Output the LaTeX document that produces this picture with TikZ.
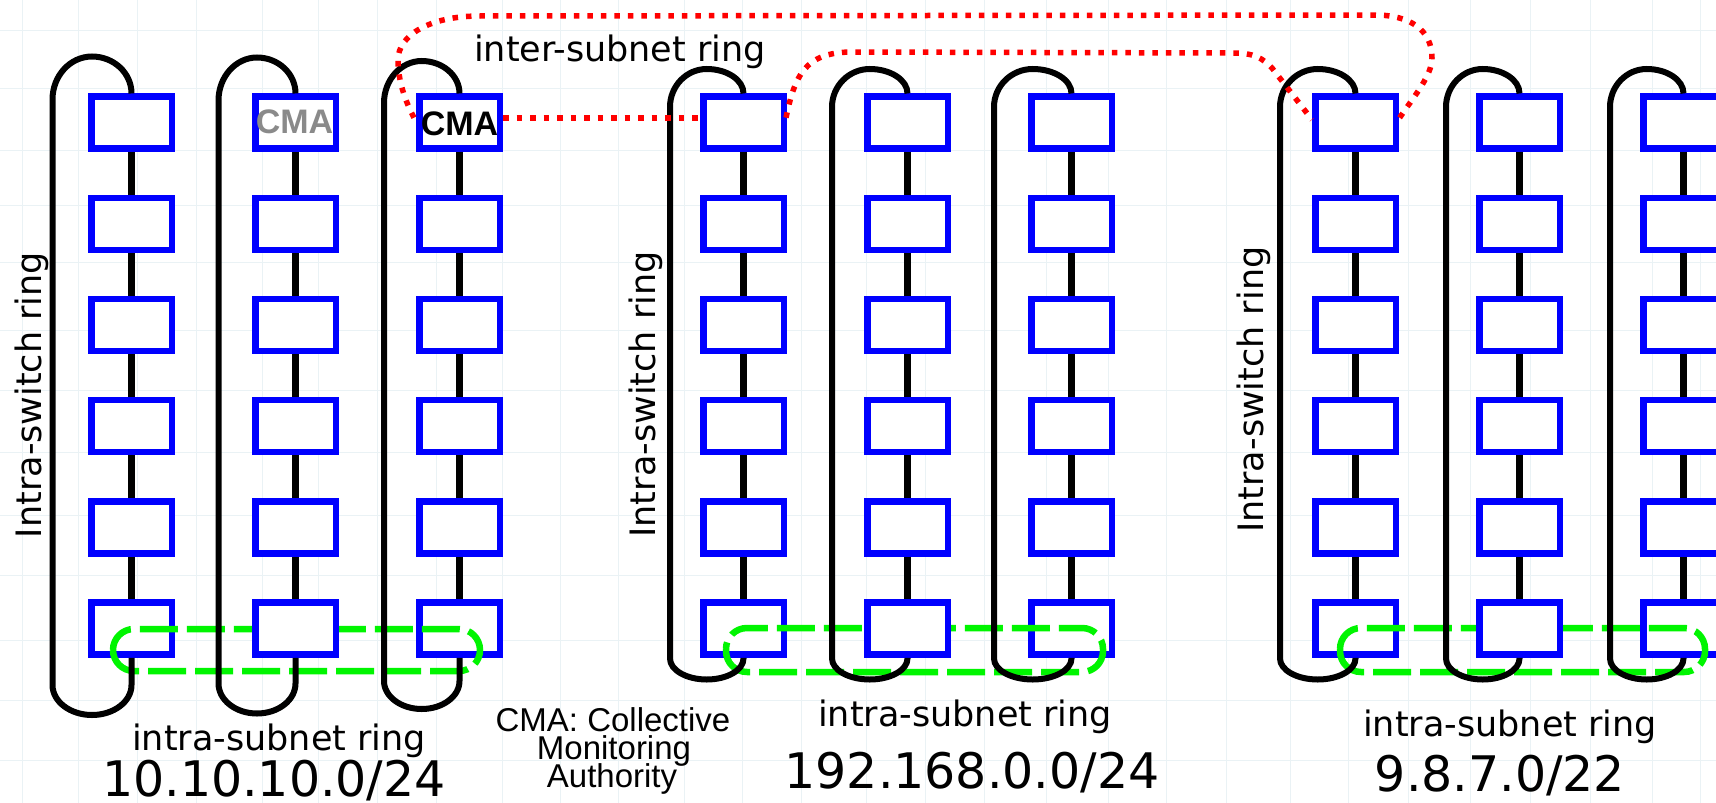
\documentclass[tikz,border=0pt]{standalone}
\usepackage{fontspec}
\setmainfont{DejaVu Sans}
\newfontfamily\arialf{Liberation Sans}
\usetikzlibrary{calc}
\definecolor{boxblue}{RGB}{0,0,255}
\definecolor{ringgreen}{RGB}{0,245,0}
\definecolor{ringred}{RGB}{255,0,0}
\definecolor{bgline}{RGB}{234,242,245}
\definecolor{cmagray}{RGB}{138,138,138}
\tikzset{
  swbox/.style={draw=boxblue, line width=6.5pt, fill=white, minimum width=80.5pt, minimum height=52pt, inner sep=0pt},
  conn/.style={line width=6.5pt, black},
  ringline/.style={line width=6pt, black},
  subring/.style={draw=ringgreen, line width=6.5pt, dash pattern=on 38pt off 9pt, rounded corners=21pt},
  interring/.style={draw=ringred, line width=5.5pt, dash pattern=on 5.5pt off 8pt},
  lbl/.style={font=\fontsize{35}{42}\selectfont, inner sep=0pt},
  addr/.style={font=\fontsize{49}{58}\selectfont, inner sep=0pt, text depth=0pt},
  legend/.style={font=\arialf\fontsize{33}{40}\selectfont, inner sep=0pt, text height=23pt, text depth=3pt},
  cmatext/.style={font=\arialf\bfseries\fontsize{34}{40}\selectfont, inner sep=0pt},
  bggrid/.style={draw=bgline, line width=1pt},
}
% #1 group, #2 column, #3 top y, #4 left-top radius, #5 bottom y, #6 bottom radius, #7 left offset
\newcommand{\swring}[7]{%
  \pgfmathsetmacro\rcx{131.5+612*#1+164*#2}%
  \pgfmathsetmacro\rL{\rcx-#7}%
  \pgfmathsetmacro\rM{\rcx-#7/2}%
  \pgfmathsetmacro\rk{0.276*#7}%
  \draw[ringline] (g#1c#2r1.north)
    .. controls (\rcx,{93.5-0.552*(93.5-#3)}) and ({\rM+\rk},#3) .. (\rM,#3)
    .. controls ({\rM-\rk},#3) and (\rL,{#3+0.448*#4}) .. (\rL,{#3+#4})
    -- (\rL,{#5-#6})
    .. controls (\rL,{#5-0.448*#6}) and ({\rM-\rk},#5) .. (\rM,#5)
    .. controls ({\rM+\rk},#5) and (\rcx,{#5-0.448*#6}) .. (\rcx,{#5-#6})
    -- (g#1c#2r6.south);%
}
\begin{document}
\begin{tikzpicture}[x=1pt, y=-1pt]
\useasboundingbox (0,0) rectangle (1716,803);
\fill[white] (0,0) rectangle (1716,803);
% faint background texture
\foreach \x in {22,78,137,196,262,318,377,436,502,560,618,684,742,801,866,925,984,1046,1108,1166,1226,1290,1348,1408,1470,1530,1590,1652,1700}
  \draw[bggrid] (\x,0) -- (\x,803);
\foreach \y in {30,88,150,205,262,330,390,452,515,575,640,700,760}
  \draw[bggrid] (0,\y) -- (1716,\y);

% switch boxes, outer columns
\foreach \g in {0,1,2}{
  \foreach \c in {0,2}{
    \foreach \r in {1,...,6}{
      \pgfmathsetmacro\bx{131.5+612*\g+164*\c}
      \pgfmathsetmacro\by{122.7+101.16*(\r-1)}
      \node[swbox] (g\g c\c r\r) at (\bx,\by) {};
    }
  }
}
% intra-subnet rings
\draw[subring] (113,629) rectangle (480,671);
\draw[subring] (726,628) rectangle (1103,672);
\draw[subring] (1340,628) rectangle (1705,672);
% middle columns
\foreach \g in {0,1,2}{
  \foreach \r in {1,...,6}{
    \pgfmathsetmacro\bx{131.5+612*\g+164}
    \pgfmathsetmacro\by{122.7+101.16*(\r-1)}
    \node[swbox] (g\g c1r\r) at (\bx,\by) {};
  }
}
% vertical connectors
\foreach \g in {0,1,2}{
  \foreach \c in {0,1,2}{
    \foreach \r in {1,...,5}{
      \pgfmathtruncatemacro\nr{\r+1}
      \draw[conn] (g\g c\c r\r.south) -- (g\g c\c r\nr.north);
    }
  }
}
% intra-switch rings
\swring{0}{0}{56.5}{43}{715}{30}{79}
\swring{0}{1}{57.5}{43}{713.5}{30}{77}
\swring{0}{2}{61}{42}{709}{28}{75.5}
\swring{1}{0}{69}{38}{679.5}{21}{73.5}
\swring{1}{1}{69}{38}{679.5}{21}{75.5}
\swring{1}{2}{69}{38}{679.5}{21}{77.5}
\swring{2}{0}{69}{38}{679.5}{21}{75.5}
\swring{2}{1}{69}{38}{679.5}{21}{73.5}
\swring{2}{2}{69}{38}{679.5}{21}{73.5}
% inter-subnet ring
\draw[interring] ($(g0c2r1.west)+(-2,-5)$) .. controls (402,95) and (398,75) .. (398,60)
  .. controls (398,35) and (430,16) .. (480,16) -- (1375,15)
  .. controls (1410,15) and (1432,30) .. (1432,58)
  .. controls (1432,75) and (1415,95) .. ($(g2c0r1.east)+(0,-4)$);
\draw[interring] ($(g0c2r1.east)+(0,-4.5)$) -- ($(g1c0r1.west)+(0,-4.5)$);
\draw[interring] ($(g1c0r1.east)+(-1,-5)$) .. controls (795,75) and (805,53) .. (850,52)
  -- (1232,53) .. controls (1255,53) and (1262,58) .. (1272,68)
  -- ($(g2c0r1.west)+(0,-3)$);

% CMA labels in boxes
\node[cmatext, text=cmagray] (cmaA) at ($(g0c1r1)+(-1,-1)$) {CMA};
\node[cmatext] (cmaB) at ($(g0c2r1)+(0,1.5)$) {CMA};

% texts
\node[lbl, anchor=base] (intert) at (620,61) {inter-subnet ring};
\node[lbl, anchor=base] (intra0) at (279,750.7) {intra-subnet ring};
\node[lbl, anchor=base] (intra1) at (965,726.7) {intra-subnet ring};
\node[lbl, anchor=base] (intra2) at (1510,736.7) {intra-subnet ring};
\node[addr, anchor=base] (net0) at (274,796) {10.10.10.0/24};
\node[addr, anchor=base] (net1) at (972,788.3) {192.168.0.0/24};
\node[addr, anchor=base] (net2) at (1500,791.7) {9.8.7.0/22};
\node[lbl, anchor=base, rotate=90] (isw0) at (41.7,395) {Intra-switch ring};
\node[lbl, anchor=base, rotate=90] (isw1) at (655.7,394.5) {Intra-switch ring};
\node[lbl, anchor=base, rotate=90] (isw2) at (1263,389.6) {Intra-switch ring};
\node[legend, anchor=base] (leg1) at (613,731) {CMA: Collective};
\node[legend, anchor=base] (leg2) at (614,759.5) {Monitoring};
\node[legend, anchor=base] (leg3) at (612,787) {Authority};
\end{tikzpicture}
\end{document}
